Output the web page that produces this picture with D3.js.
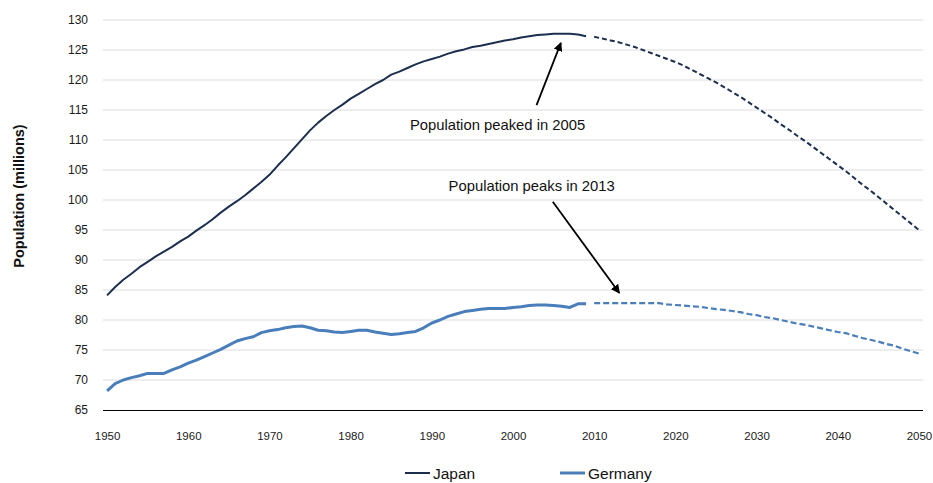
<!DOCTYPE html>
<html>
<head>
<meta charset="utf-8">
<script src="https://cdn.jsdelivr.net/npm/d3@7"></script>
<style>
  html, body { margin: 0; padding: 0; background: #fff; }
  svg { display: block; font-family: "Liberation Sans", Arial, sans-serif; }
</style>
</head>
<body>
<svg id="chart" width="933" height="483"></svg>
<script>
// Years on the category axis
const years = d3.range(1950, 2051);

// Japan, actual population (millions), 1950–2009
const japanActual = [
  84.1, 85.5, 86.7, 87.7, 88.8, 89.7, 90.6, 91.4, 92.2, 93.1,
  93.9, 94.9, 95.8, 96.8, 97.9, 98.9, 99.8, 100.8, 101.9, 103.0,
  104.2, 105.7, 107.1, 108.6, 110.1, 111.6, 112.9, 114.0, 115.0, 115.9,
  116.9, 117.7, 118.5, 119.3, 120.0, 120.9, 121.4, 122.0, 122.6, 123.1,
  123.5, 123.9, 124.4, 124.8, 125.1, 125.5, 125.7, 126.0, 126.3, 126.6,
  126.8, 127.1, 127.3, 127.5, 127.6, 127.7, 127.7, 127.7, 127.6, 127.3
];
// Japan, projection (millions), 2010–2050
const japanProjected = [
  127.2, 126.9, 126.6, 126.3, 125.9, 125.5, 125.0, 124.5, 124.0, 123.5,
  123.0, 122.4, 121.7, 121.0, 120.3, 119.6, 118.8, 118.0, 117.2, 116.3,
  115.4, 114.5, 113.6, 112.6, 111.7, 110.7, 109.8, 108.8, 107.8, 106.8,
  105.8, 104.8, 103.7, 102.6, 101.6, 100.5, 99.4, 98.3, 97.2, 96.1,
  95.0
];
// Germany, actual population (millions), 1950–2009
const germanyActual = [
  68.2, 69.4, 70.0, 70.4, 70.7, 71.1, 71.1, 71.1, 71.7, 72.2,
  72.8, 73.3, 73.9, 74.5, 75.1, 75.8, 76.5, 76.9, 77.2, 77.9,
  78.2, 78.4, 78.7, 78.9, 79.0, 78.7, 78.3, 78.2, 78.0, 77.9,
  78.1, 78.3, 78.3, 78.0, 77.8, 77.6, 77.7, 77.9, 78.1, 78.7,
  79.5, 80.0, 80.6, 81.0, 81.4, 81.6, 81.8, 81.9, 81.9, 81.9,
  82.1, 82.2, 82.4, 82.5, 82.5, 82.4, 82.3, 82.1, 82.7, 82.7
];
// Germany, projection (millions), 2010–2050
const germanyProjected = [
  82.8, 82.8, 82.8, 82.8, 82.8, 82.8, 82.8, 82.8, 82.8, 82.6,
  82.5, 82.4, 82.3, 82.2, 82.0, 81.8, 81.7, 81.5, 81.3, 81.0,
  80.8, 80.5, 80.3, 80.0, 79.7, 79.4, 79.2, 78.9, 78.6, 78.3,
  78.0, 77.8, 77.4, 77.0, 76.7, 76.4, 76.0, 75.7, 75.2, 74.8,
  74.4
];

const yTicks = d3.range(65, 131, 5);
const xTicks = years.filter(y => y % 10 === 0);

// Callouts, placed in (year, millions) coordinates
const annotations = [
  { text: "Population peaked in 2005", x: 1998.1, y: 111.7, from: [2002.9, 115.8], to: [2005.9, 126.2] },
  { text: "Population peaks in 2013", x: 2002.3, y: 101.5, from: [2004.9, 99.7], to: [2013.1, 84.5] }
];

const svg = d3.select("#chart");
const plotLeft = 103, plotRight = 923, plotTop = 20, plotBottom = 410;

const x = d3.scalePoint().domain(years).range([plotLeft, plotRight]).padding(0.5);
const xc = d3.scaleLinear().domain([1950, 2050]).range([x(1950), x(2050)]);
const y = d3.scaleLinear().domain([65, 130]).range([plotBottom, plotTop]);

// horizontal gridlines
svg.append("g")
  .selectAll("line")
  .data(yTicks.filter(t => t !== 65))
  .join("line")
  .attr("x1", plotLeft).attr("x2", plotRight)
  .attr("y1", d => y(d)).attr("y2", d => y(d))
  .attr("stroke", "#dcdcdc").attr("stroke-width", 1);

// y axis labels
const yAxis = svg.append("g")
  .attr("transform", `translate(${plotLeft},0)`)
  .call(d3.axisLeft(y).tickValues(yTicks).tickSize(0).tickPadding(15));
yAxis.select(".domain").remove();
yAxis.selectAll("text").attr("font-size", 12).attr("fill", "#1a1a1a")
  .attr("font-family", "'Liberation Sans', Arial, sans-serif");

// x axis
const xAxis = svg.append("g")
  .attr("transform", `translate(0,${plotBottom})`)
  .call(d3.axisBottom(x).tickValues(xTicks).tickSize(0).tickPadding(21.5));
xAxis.select(".domain").attr("stroke", "#000").attr("stroke-width", 1.2)
  .attr("d", `M${plotLeft},0.5H${plotRight}`);
xAxis.selectAll("text").attr("font-size", 11.5).attr("fill", "#1a1a1a")
  .attr("font-family", "'Liberation Sans', Arial, sans-serif");

// y axis title
svg.append("text")
  .attr("transform", `translate(24,196) rotate(-90)`)
  .attr("text-anchor", "middle")
  .attr("font-size", 14.5).attr("font-weight", "bold").attr("fill", "#111")
  .text("Population (millions)");

const line = d3.line().x(d => x(d[0])).y(d => y(d[1]));

const japanColor = "#1c2f4e";
const germanyColor = "#4a7ebb";

function series(values, startYear) {
  return values.map((v, i) => [startYear + i, v]);
}

svg.append("path").datum(series(germanyActual, 1950))
  .attr("d", line).attr("fill", "none")
  .attr("stroke", germanyColor).attr("stroke-width", 3).attr("stroke-linejoin", "round");
svg.append("path").datum(series(germanyProjected, 2010))
  .attr("d", line).attr("fill", "none")
  .attr("stroke", germanyColor).attr("stroke-width", 2.2).attr("stroke-dasharray", "6,3");

svg.append("path").datum(series(japanActual, 1950))
  .attr("d", line).attr("fill", "none")
  .attr("stroke", japanColor).attr("stroke-width", 2).attr("stroke-linejoin", "round");
svg.append("path").datum(series(japanProjected, 2010))
  .attr("d", line).attr("fill", "none")
  .attr("stroke", japanColor).attr("stroke-width", 2).attr("stroke-dasharray", "5,3");

// annotation arrows
const defs = svg.append("defs");
defs.append("marker")
  .attr("id", "arrow").attr("viewBox", "0 0 10 10")
  .attr("refX", 9).attr("refY", 5)
  .attr("markerWidth", 5).attr("markerHeight", 5)
  .attr("markerUnits", "strokeWidth")
  .attr("orient", "auto")
  .append("path").attr("d", "M0,0L10,5L0,10Z").attr("fill", "#000");

const ann = svg.append("g");
ann.selectAll("line").data(annotations).join("line")
  .attr("x1", d => xc(d.from[0])).attr("y1", d => y(d.from[1]))
  .attr("x2", d => xc(d.to[0])).attr("y2", d => y(d.to[1]))
  .attr("stroke", "#000").attr("stroke-width", 1.8)
  .attr("marker-end", "url(#arrow)");
ann.selectAll("text").data(annotations).join("text")
  .attr("x", d => xc(d.x)).attr("y", d => y(d.y))
  .attr("text-anchor", "middle")
  .attr("font-size", 14.8).attr("fill", "#111")
  .text(d => d.text);

// legend
const legend = svg.append("g").attr("transform", "translate(0,473)");
const items = [
  { name: "Japan", color: japanColor, width: 2, x: 405 },
  { name: "Germany", color: germanyColor, width: 3, x: 560 }
];
const li = legend.selectAll("g").data(items).join("g")
  .attr("transform", d => `translate(${d.x},0)`);
li.append("line").attr("x1", 0).attr("x2", 25).attr("y1", 0).attr("y2", 0)
  .attr("stroke", d => d.color).attr("stroke-width", d => d.width);
li.append("text").attr("x", 28).attr("y", 6)
  .attr("font-size", 15.5).attr("fill", "#111")
  .text(d => d.name);
</script>
</body>
</html>
